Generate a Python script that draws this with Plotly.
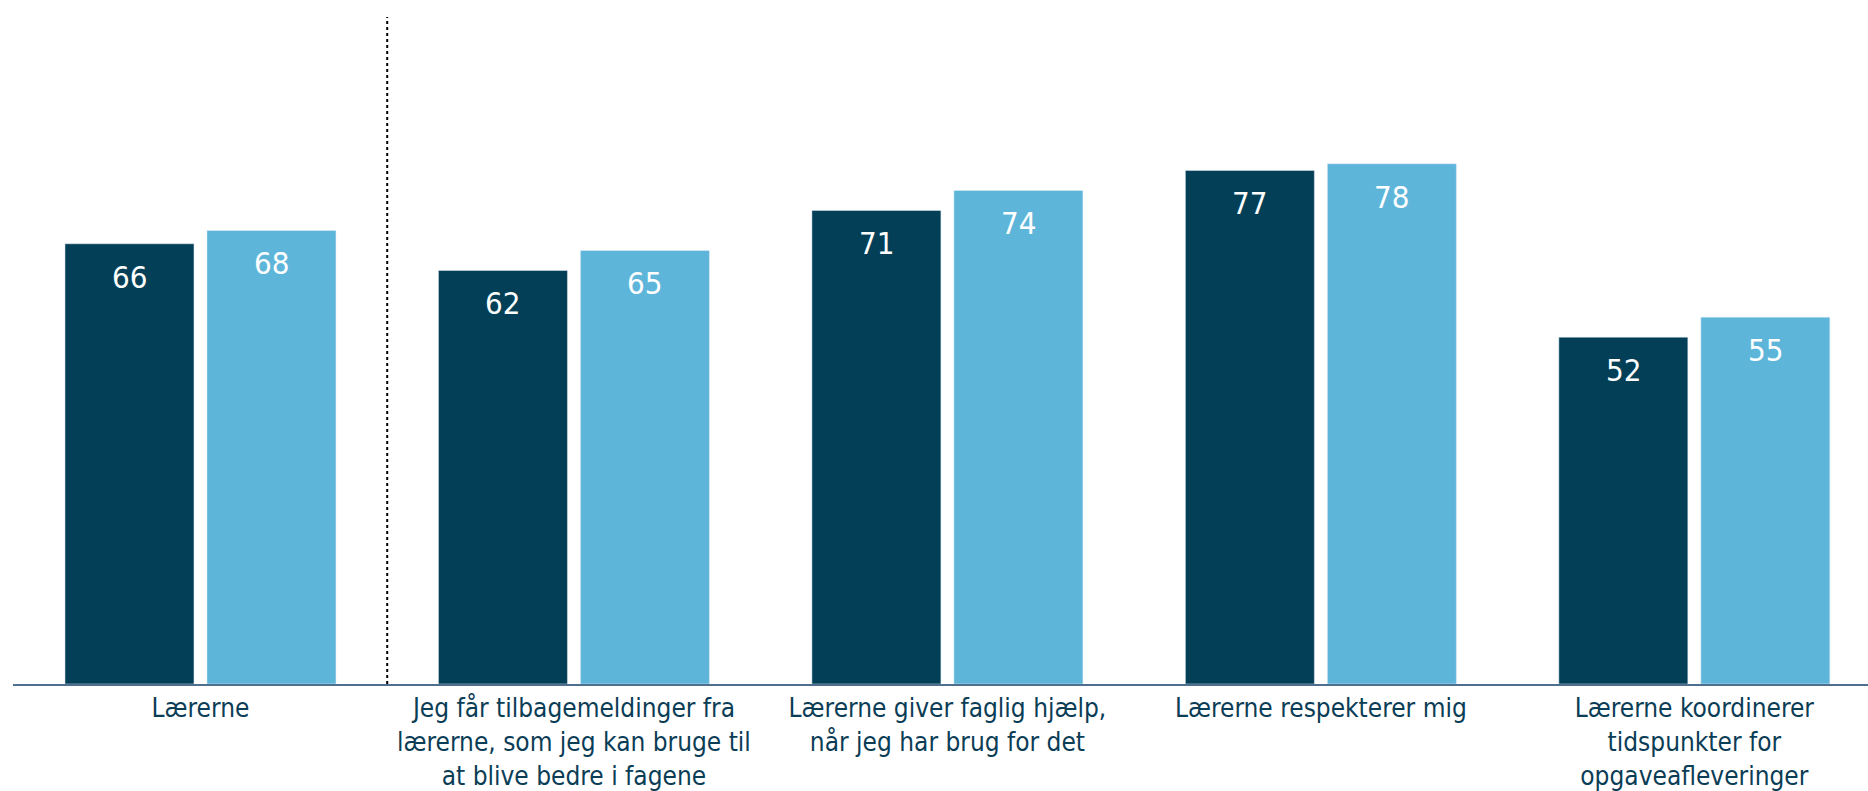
import plotly.graph_objects as go

categories = [
    "Lærerne",
    "Jeg får tilbagemeldinger fra<br>lærerne, som jeg kan bruge til<br>at blive bedre i fagene",
    "Lærerne giver faglig hjælp,<br>når jeg har brug for det",
    "Lærerne respekterer mig",
    "Lærerne koordinerer<br>tidspunkter for<br>opgaveafleveringer",
]
series_dark = [66, 62, 71, 77, 52]
series_light = [68, 65, 74, 78, 55]

DARK = "#033F57"
LIGHT = "#5EB5DA"
TEXT = "#0B3D56"
FONT = "DejaVu Sans Condensed, DejaVu Sans, sans-serif"

x_idx = list(range(len(categories)))

fig = go.Figure()
fig.add_trace(go.Bar(x=x_idx, y=series_dark, marker_color=DARK, showlegend=False, hoverinfo="skip"))
fig.add_trace(go.Bar(x=x_idx, y=series_light, marker_color=LIGHT, showlegend=False, hoverinfo="skip"))

for vals, shift in ((series_dark, -71), (series_light, 71)):
    for i, v in enumerate(vals):
        fig.add_annotation(x=i, y=v, text=str(v), showarrow=False, xref="x", yref="y",
                           yanchor="top", xshift=shift, yshift=-13,
                           font=dict(family=FONT, size=31, color="white"))

fig.add_shape(type="line", xref="x", yref="y", x0=0.5, x1=0.5, y0=0, y1=100.5,
              line=dict(color="black", width=2, dash="dot"))

fig.update_layout(
    width=1868, height=791,
    margin=dict(l=13, r=0, t=17, b=107),
    paper_bgcolor="white", plot_bgcolor="white",
    barmode="group", bargap=0.2396, bargroupgap=0.0915,
    font=dict(family=FONT, size=26, color=TEXT),
    xaxis=dict(range=[-0.502, 4.465], tickmode="array", tickvals=x_idx, ticktext=categories,
               showline=True, linecolor="#4F6F8F", linewidth=2, showgrid=False, zeroline=False,
               ticks="", tickangle=0,
               tickfont=dict(family=FONT, size=26, color=TEXT)),
    yaxis=dict(range=[0, 100], visible=False, showgrid=False, zeroline=False),
)

fig.write_html("out.html", config={"displayModeBar": False},
               post_script="document.body.style.margin='0';document.body.style.overflow='hidden';")
